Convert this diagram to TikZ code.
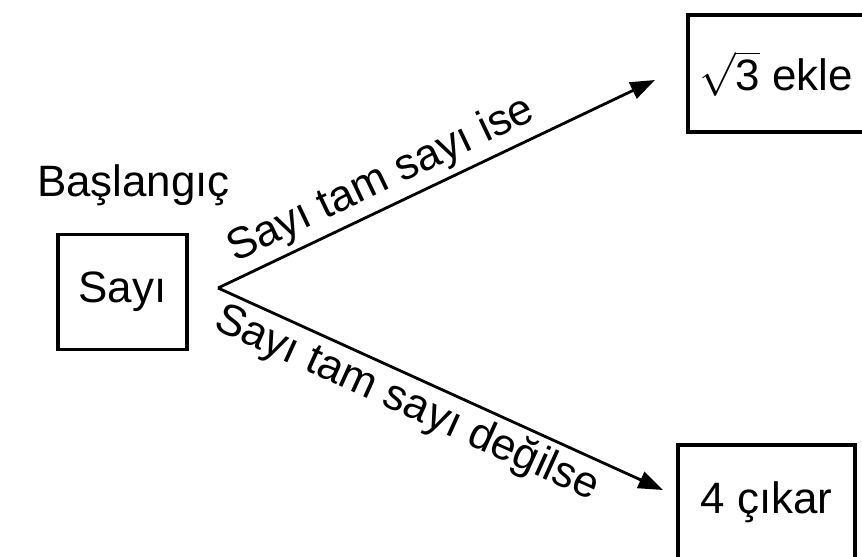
\documentclass[tikz,border=0pt]{standalone}
\usepackage{fontspec}
\setmainfont{Liberation Sans}
\usetikzlibrary{arrows.meta}
\tikzset{
    Box/.style={draw, line width=1.8pt, inner sep=0pt, font=\fontsize{25}{30}\selectfont},
    Flow/.style={line width=1.6pt, -{Triangle[length=14pt,width=10pt]}},
    Label/.style={font=\fontsize{25}{30}\selectfont, inner sep=3pt, sloped}
}
\begin{document}
\begin{tikzpicture}[x=0.02cm,y=-0.02cm]
    \useasboundingbox (0,0) rectangle (862,557);
    % boxes
    \node[Box, minimum width=2.58cm, minimum height=2.3cm] (Sayi) at (122.5,292) {Sayı};
    \node[font=\fontsize{25}{30}\selectfont, anchor=base] (Start) at (133.5,197) {Başlangıç};
    \node[Box, minimum width=3.52cm, minimum height=2.34cm] (Ekle) at (776,73.5) {$\sqrt{\mbox{3}}$ ekle};
    \node[Box, minimum width=3.54cm, minimum height=2.3cm] (Cikar) at (766.5,502.5) {4 çıkar};
    % branches
    \coordinate (Split) at (218,288);
    \coordinate (EkleTip) at (655,80);
    \coordinate (CikarTip) at (663,490);
    \draw[Flow] (Split) -- (EkleTip) node[Label, pos=0.40, above] {Sayı tam sayı ise};
    \draw[Flow] (Split) -- (CikarTip) node[Label, pos=0.45, below] {Sayı tam sayı değilse};
\end{tikzpicture}
\end{document}
